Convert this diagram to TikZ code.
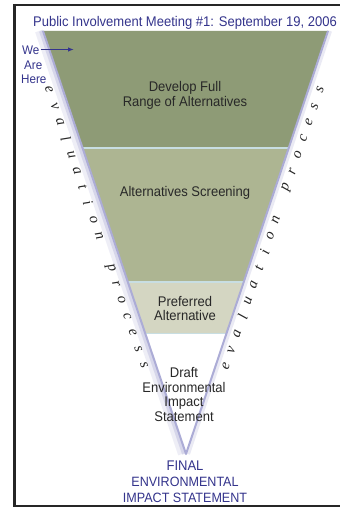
\documentclass[tikz,border=0pt]{standalone}
\usepackage{fontspec}
\usetikzlibrary{arrows.meta}
\newfontfamily\arialf[FakeStretch=0.93]{Liberation Sans}
\newfontfamily\arialt[FakeStretch=0.93]{Liberation Sans}
\newfontfamily\timesf{Liberation Serif}
\definecolor{navy}{RGB}{52,52,140}
\definecolor{bandA}{RGB}{142,155,118}
\definecolor{bandB}{RGB}{173,181,146}
\definecolor{bandC}{RGB}{212,214,194}
\definecolor{edgec}{RGB}{172,172,214}
\definecolor{sepc}{RGB}{200,222,226}
\definecolor{ink}{RGB}{40,40,40}
\begin{document}
\begin{tikzpicture}[x=1pt,y=-1pt,
  txt/.style={font=\arialf\fontsize{14}{16}\selectfont, text=ink, inner sep=0pt, anchor=base},
  ntxt/.style={txt, text=navy},
  evl/.style={font=\timesf\itshape\fontsize{15}{15}\selectfont, text=black!85, inner sep=0pt}]
\useasboundingbox (0,0) rectangle (340,508);
\fill[white] (0,0) rectangle (340,508);
% frame
\draw[line width=3pt, black!85] (14,4) -- (14,507);
\draw[line width=2.5pt, black!85] (13,5) -- (340,5);
\draw[line width=2.5pt, black!85] (13,506) -- (340,506);
% funnel coordinates
\coordinate (TL) at (43,31);
\coordinate (TR) at (328,31);
\coordinate (AP) at (186,454);
\coordinate (L1) at (82.4,148);
\coordinate (R1) at (288.9,148);
\coordinate (L2) at (127.5,282);
\coordinate (R2) at (244.1,282);
\coordinate (L3) at (144.6,333);
\coordinate (R3) at (227.1,333);
% shadow on the outside of the edges
\draw[edgec, opacity=0.2, line width=8pt] ([xshift=-4pt]TL) -- ([xshift=-4pt]AP);
\draw[edgec, opacity=0.35, line width=4pt] ([xshift=-2pt]TL) -- ([xshift=-2pt]AP);
\draw[edgec, opacity=0.25, line width=4pt] ([xshift=2pt]TR) -- ([xshift=2pt]AP);
% bands
\fill[bandA] (TL) -- (TR) -- (R1) -- (L1) -- cycle;
\fill[bandB] (L1) -- (R1) -- (R2) -- (L2) -- cycle;
\fill[bandC] (L2) -- (R2) -- (R3) -- (L3) -- cycle;
\draw[sepc, line width=1.5pt] (L1) -- (R1);
\draw[sepc, line width=1.5pt] (L2) -- (R2);
\draw[sepc, line width=1pt] (L3) -- (R3);
% edges
\draw[edgec, line width=2pt, line join=round] (TL) -- (AP) -- (TR);
% title
\node[ntxt, font=\arialt\fontsize{14}{16}\selectfont] (title) at (185,27) {Public Involvement Meeting \#1: September 19, 2006};
% we are here
\node[ntxt, font=\arialf\fontsize{12.5}{13}\selectfont, anchor=base west] (we) at (22,55) {We};
\node[ntxt, font=\arialf\fontsize{12.5}{13}\selectfont, anchor=base west] (are) at (24,69.5) {Are};
\node[ntxt, font=\arialf\fontsize{12.5}{13}\selectfont, anchor=base west] (here) at (21,84) {Here};
\coordinate (arrowEnd) at (74,49.5);
\draw[navy, line width=1.1pt, -{Latex[length=6pt,width=4.5pt]}] ([xshift=1pt,yshift=5.5pt]we.base east) -- (arrowEnd);
% band texts
\node[txt] (dev1) at (185,92) {Develop Full};
\node[txt] (dev2) at (185,106.5) {Range of Alternatives};
\node[txt] (scr) at (185,196) {Alternatives Screening};
\node[txt] (pref1) at (185,306) {Preferred};
\node[txt] (pref2) at (185,320.5) {Alternative};
\node[txt] (deis1) at (184,377) {Draft};
\node[txt] (deis2) at (184,392) {Environmental};
\node[txt] (deis3) at (184,406.5) {Impact};
\node[txt] (deis4) at (184,421) {Statement};
\node[ntxt] (feis1) at (185,470) {FINAL};
\node[ntxt, font=\arialf\fontsize{13.5}{16}\selectfont] (feis2) at (185,486) {ENVIRONMENTAL};
\node[ntxt, font=\arialf\fontsize{13.5}{16}\selectfont] (feis3) at (185,502) {IMPACT STATEMENT};
% evaluation process letters
\foreach \ch [count=\i from 0] in {e,v,a,l,u,a,t,i,o,n,{},p,r,o,c,e,s,s} {
  \node[evl, rotate=-70.9] (le\i) at ({49+95*\i/17},{90+275*\i/17}) {\ch};
  \node[evl, rotate=71.2] (re\i) at ({226+94*\i/17},{366-276*\i/17}) {\ch};
}
\end{tikzpicture}
\end{document}
